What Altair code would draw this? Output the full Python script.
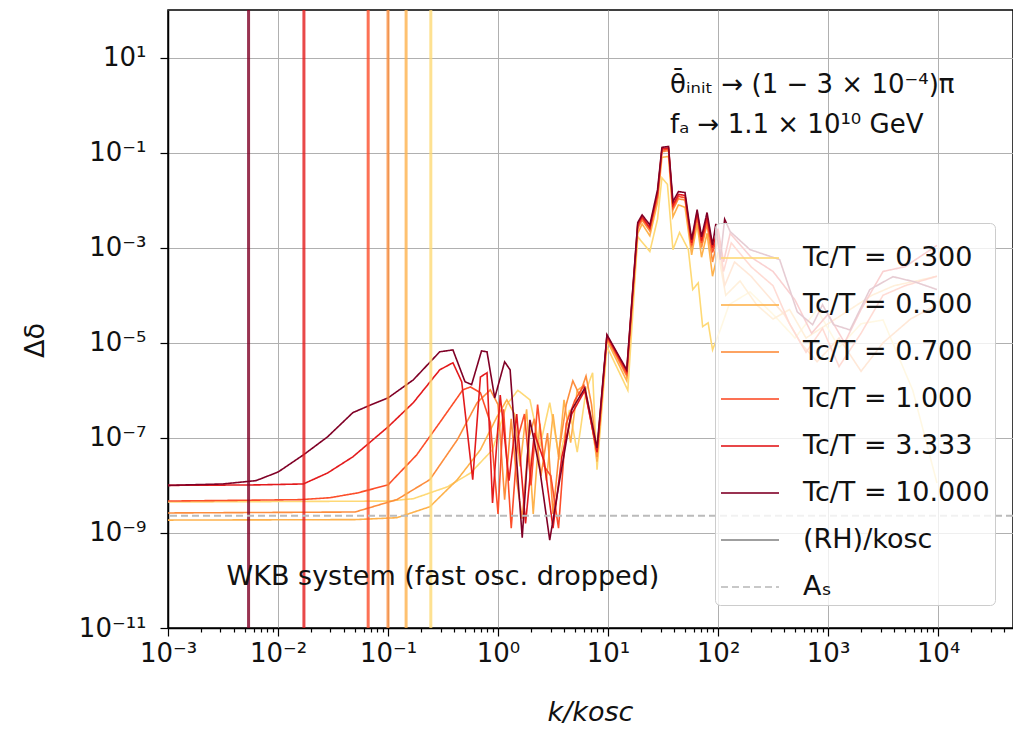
import altair as alt
import pandas as pd

# ---------------- data (log10 values) ----------------
series_labels = ["Tc/T = 0.300", "Tc/T = 0.500", "Tc/T = 0.700",
                 "Tc/T = 1.000", "Tc/T = 3.333", "Tc/T = 10.000"]
rh_label = "(RH)/kosc"
as_label = "Aₛ"
series_colors = ["#fed976", "#feb24c", "#fd8d3c", "#fc4e2a", "#e31a1c", "#800026"]

lx_T03 = [-3.0, -1.0, -0.77, -0.46, -0.25, -0.05, 0.08, 0.18, 0.29, 0.38,
          0.47, 0.56, 0.65, 0.72, 0.8, 0.86, 0.9, 0.99, 1.18, 1.27,
          1.38, 1.45, 1.49, 1.54, 1.59, 1.65, 1.73, 1.77, 1.82, 1.86,
          1.91, 1.95, 2.02, 2.1, 2.29, 2.5, 2.7, 2.9, 3.1, 3.3,
          3.5, 3.77, 3.99]
ly_T03 = [-8.35, -8.33, -8.28, -8.03, -7.74, -7.25, -6.3, -6.0, -6.2, -7.19,
          -6.26, -7.46, -6.41, -7.3, -6.0, -5.63, -7.67, -5.08, -6.0, -2.77,
          -3.08, -2.4, -1.53, -1.67, -3.04, -2.68, -3.04, -3.88, -3.74, -4.66,
          -4.58, -5.15, -4.73, -4.2, -3.93, -4.4, -4.9, -4.3, -5.1, -4.6,
          -4.52, -6.0, -7.95]

lx_T05 = [-3.0, -1.3, -0.92, -0.62, -0.37, -0.16, -0.01, 0.08, 0.15, 0.2,
          0.26, 0.32, 0.38, 0.44, 0.5, 0.55, 0.6, 0.66, 0.72, 0.78,
          0.84, 0.9, 0.99, 1.17, 1.27, 1.31, 1.38, 1.45, 1.49, 1.55,
          1.59, 1.64, 1.7, 1.76, 1.81, 1.85, 1.9, 1.95, 2.0, 2.07,
          2.2, 2.35, 2.5, 2.65, 2.8, 3.0, 3.2, 3.4, 3.6, 3.8,
          3.99]
ly_T05 = [-8.73, -8.72, -8.68, -8.45, -7.88, -7.25, -6.56, -6.2, -6.5, -7.6,
          -6.4, -8.6, -6.7, -7.9, -6.5, -7.4, -6.2, -7.1, -6.0, -5.9,
          -6.5, -7.5, -4.95, -5.8, -2.7, -2.5, -2.75, -2.05, -1.1, -1.08,
          -2.35, -2.1, -2.15, -3.15, -2.5, -3.2, -2.7, -3.6, -3.1, -4.0,
          -3.7, -4.2, -4.5, -4.3, -4.9, -4.6, -4.3, -4.0, -3.8, -3.7,
          -3.6]

lx_T07 = [-3.0, -1.3, -0.92, -0.62, -0.37, -0.19, -0.07, 0.0, 0.06, 0.12,
          0.17, 0.22, 0.28, 0.33, 0.39, 0.45, 0.5, 0.56, 0.62, 0.68,
          0.74, 0.8, 0.85, 0.9, 0.99, 1.17, 1.27, 1.31, 1.38, 1.45,
          1.49, 1.55, 1.59, 1.64, 1.7, 1.76, 1.81, 1.85, 1.9, 1.95,
          2.0, 2.06, 2.15, 2.3, 2.45, 2.6, 2.75, 2.9, 3.1, 3.3,
          3.5, 3.75, 3.99]
ly_T07 = [-8.58, -8.56, -8.3, -7.88, -7.04, -6.26, -5.99, -6.3, -8.3, -6.6,
          -7.9, -8.7, -7.0, -6.6, -7.8, -6.9, -8.6, -7.2, -6.3, -5.8,
          -6.1, -5.7, -6.3, -7.4, -4.9, -5.7, -2.6, -2.42, -2.65, -1.95,
          -0.98, -0.96, -2.2, -1.97, -2.0, -3.0, -2.36, -3.0, -2.5, -3.3,
          -2.8, -3.8, -3.3, -3.6, -4.0, -4.4, -5.0, -5.4, -4.9, -5.6,
          -5.0, -4.5, -4.2]

lx_T1 = [-3.0, -1.8, -1.53, -1.28, -1.0, -0.74, -0.53, -0.32, -0.25, -0.16,
         -0.07, 0.0, 0.05, 0.12, 0.18, 0.24, 0.3, 0.36, 0.42, 0.48,
         0.55, 0.62, 0.7, 0.78, 0.84, 0.9, 0.99, 1.17, 1.27, 1.31,
         1.38, 1.45, 1.49, 1.55, 1.59, 1.64, 1.7, 1.76, 1.81, 1.85,
         1.9, 1.95, 2.0, 2.05, 2.12, 2.3, 2.5, 2.65, 2.8, 2.95,
         3.1, 3.3, 3.5, 3.7, 3.99]
ly_T1 = [-8.33, -8.3, -8.26, -8.16, -7.99, -7.36, -6.68, -5.99, -5.93, -6.05,
         -6.68, -8.6, -6.4, -8.9, -7.0, -6.5, -8.0, -6.3, -7.6, -7.8,
         -8.9, -6.7, -6.2, -5.9, -6.6, -7.3, -4.87, -5.65, -2.55, -2.38,
         -2.6, -1.9, -0.95, -0.93, -2.15, -1.92, -1.95, -2.95, -2.3, -2.9,
         -2.4, -3.1, -2.7, -3.5, -2.9, -3.4, -3.8, -4.6, -5.2, -4.7,
         -5.5, -4.8, -4.0, -3.8, -3.6]

lx_T3 = [-3.0, -2.2, -1.77, -1.55, -1.32, -1.0, -0.77, -0.53, -0.41, -0.33,
         -0.23, -0.16, -0.1, -0.05, 0.02, 0.1, 0.17, 0.25, 0.33, 0.42,
         0.5, 0.58, 0.67, 0.79, 0.9, 0.99, 1.17, 1.27, 1.31, 1.38,
         1.45, 1.49, 1.55, 1.59, 1.64, 1.7, 1.76, 1.81, 1.85, 1.9,
         1.95, 2.0, 2.05, 2.11, 2.3, 2.5, 2.7, 2.85, 3.0, 3.15,
         3.3, 3.5, 3.7, 3.99]
ly_T3 = [-8.0, -7.99, -7.97, -7.74, -7.4, -6.77, -6.26, -5.57, -5.42, -5.82,
         -7.88, -5.72, -5.63, -8.37, -6.1, -7.9, -6.5, -8.8, -6.9, -7.5,
         -8.9, -7.4, -6.5, -6.0, -7.3, -4.85, -5.6, -2.5, -2.35, -2.58,
         -1.85, -0.92, -0.9, -2.1, -1.88, -1.9, -2.9, -2.25, -2.85, -2.35,
         -3.0, -2.6, -3.3, -2.7, -3.2, -3.5, -4.1, -4.8, -4.4, -5.0,
         -4.3, -3.5, -3.4, -2.95]

lx_T10 = [-3.0, -2.5, -2.2, -2.0, -1.77, -1.55, -1.32, -1.15, -1.0, -0.77,
          -0.53, -0.41, -0.3, -0.24, -0.15, -0.1, -0.03, 0.06, 0.11, 0.22,
          0.29, 0.38, 0.47, 0.55, 0.67, 0.79, 0.9, 0.99, 1.08, 1.17,
          1.27, 1.31, 1.38, 1.45, 1.49, 1.55, 1.59, 1.64, 1.7, 1.76,
          1.81, 1.85, 1.9, 1.95, 1.98, 2.02, 2.06, 2.11, 2.29, 2.56,
          2.72, 2.86, 2.95, 3.05, 3.2, 3.38, 3.59, 3.79, 3.99]
ly_T10 = [-8.0, -7.97, -7.9, -7.72, -7.36, -6.98, -6.47, -6.3, -6.16, -5.78,
          -5.19, -5.15, -5.82, -5.88, -5.17, -5.19, -6.16, -5.4, -5.57, -9.1,
          -6.62, -7.67, -9.15, -8.03, -6.41, -5.95, -7.21, -4.83, -5.2, -5.57,
          -2.47, -2.31, -2.52, -1.78, -0.89, -0.87, -2.03, -1.82, -1.84, -2.83,
          -2.2, -2.77, -2.26, -2.94, -2.5, -3.25, -2.4, -2.66, -3.04, -3.25,
          -4.35, -4.62, -4.2, -4.62, -4.73, -3.88, -3.61, -3.72, -3.88]

all_lx = [lx_T03, lx_T05, lx_T07, lx_T1, lx_T3, lx_T10]
all_ly = [ly_T03, ly_T05, ly_T07, ly_T1, ly_T3, ly_T10]

# (RH)/k_osc for each Tc/T
rh_k = [0.245, 0.146, 0.1, 0.066, 0.0172, 0.0054]
# A_s level
as_value = 2.3e-9

x_major = [1e-3, 1e-2, 1e-1, 1e0, 1e1, 1e2, 1e3, 1e4]
x_labels = {"-3": "10⁻³", "-2": "10⁻²", "-1": "10⁻¹", "0": "10⁰",
            "1": "10¹", "2": "10²", "3": "10³", "4": "10⁴"}
y_major = [1e1, 1e-1, 1e-3, 1e-5, 1e-7, 1e-9, 1e-11]
y_labels = {"1": "10¹", "-1": "10⁻¹", "-3": "10⁻³", "-5": "10⁻⁵",
            "-7": "10⁻⁷", "-9": "10⁻⁹", "-11": "10⁻¹¹"}

annot_text = ["θ̄ᵢₙᵢₜ → (1 − 3 × 10⁻⁴)π", "fₐ → 1.1 × 10¹⁰ GeV"]
annot_k = [36.6, 36.6]
annot_d = [2.7, 0.39]
wkb_text = ["WKB system (fast osc. dropped)"]
wkb_k = [0.316]
wkb_d = [1.2e-10]

# ---------------- build ----------------
FONT = "DejaVu Sans"
FS = 27
legend_domain = series_labels + [rh_label, as_label]
color_scale = alt.Scale(domain=legend_domain,
                        range=series_colors + ["#888888", "#bbbbbb"])
dash_scale = alt.Scale(domain=legend_domain,
                       range=[[1, 0]] * 7 + [[7, 4]])
xscale = alt.Scale(type="log", domain=[1e-3, 4.8e4], nice=False)
yscale = alt.Scale(type="log", domain=[1e-11, 1e2], nice=False)

legend = alt.Legend(title=None, orient="none", legendX=547, legendY=213,
                    symbolType="stroke", symbolSize=3364, symbolStrokeWidth=2,
                    labelFontSize=FS, labelFont=FONT, labelColor="#111111",
                    rowPadding=4, labelOffset=23, padding=5,
                    fillColor="rgba(255,255,255,0.8)", strokeColor="#cccccc",
                    cornerRadius=5, labelLimit=400)


def lookup_expr(mapping):
    body = ",".join("'%s':'%s'" % (k, v) for k, v in mapping.items())
    return "{" + body + "}['' + round(log(datum.value)/LN10)]"


x_axis = alt.Axis(values=x_major, labelExpr=lookup_expr(x_labels), grid=True,
                  gridColor="#b0b0b0", gridWidth=1, tickSize=8, labelPadding=4,
                  labelFontSize=26, labelFlush=False, labelOverlap=False,
                  title="k/kosc", titleFontSize=FS, titleFontStyle="italic",
                  titleFontWeight="normal", titleX=422, titleY=84,
                  titleBaseline="middle", titleAlign="center", orient="bottom")
x_minor = [m * 10.0 ** e for e in range(-3, 5) for m in range(2, 10)
           if m * 10.0 ** e < 4.8e4]
x_axis_minor = alt.Axis(values=x_minor, labels=False, grid=False, tickSize=4,
                        domain=False, title="", orient="bottom")
y_axis = alt.Axis(values=y_major, labelExpr=lookup_expr(y_labels), grid=True,
                  gridColor="#b0b0b0", gridWidth=1, tickSize=8, labelPadding=14,
                  labelFontSize=26, labelFlush=False, labelOverlap=False,
                  title="Δδ", titleFontSize=FS, titleFontWeight="normal",
                  titleX=-133, titleY=330, titleBaseline="middle",
                  titleAlign="center")

layers = []
for i, (lab, xs, ys) in enumerate(zip(series_labels, all_lx, all_ly)):
    df = pd.DataFrame({"k": [10.0 ** a for a in xs],
                       "delta": [10.0 ** b for b in ys],
                       "series": lab})
    layers.append(
        alt.Chart(df).mark_line(strokeWidth=1.6, clip=True).encode(
            x=alt.X("k:Q", scale=xscale, axis=x_axis if i == 0 else None),
            y=alt.Y("delta:Q", scale=yscale, axis=y_axis) if i == 0
            else alt.Y("delta:Q", scale=yscale),
            color=alt.Color("series:N", scale=color_scale, legend=legend),
            strokeDash=alt.StrokeDash("series:N", scale=dash_scale, legend=legend),
        )
    )

rules_df = pd.DataFrame({"k": rh_k, "series": series_labels})
layers.append(
    alt.Chart(rules_df).mark_rule(strokeWidth=3, opacity=0.8, clip=True).encode(
        x=alt.X("k:Q", scale=xscale, axis=x_axis_minor),
        color=alt.Color("series:N", scale=color_scale, legend=legend),
        strokeDash=alt.StrokeDash("series:N", scale=dash_scale, legend=legend),
    )
)

as_df = pd.DataFrame({"delta": [as_value], "series": [as_label]})
layers.append(
    alt.Chart(as_df).mark_rule(strokeWidth=2.2).encode(
        y=alt.Y("delta:Q", scale=yscale),
        color=alt.Color("series:N", scale=color_scale, legend=legend),
        strokeDash=alt.StrokeDash("series:N", scale=dash_scale, legend=legend),
    )
)

ann_df = pd.DataFrame({"k": annot_k, "delta": annot_d, "t": annot_text})
layers.append(
    alt.Chart(ann_df).mark_text(font=FONT, fontSize=26, align="left",
                                baseline="middle", color="#111111").encode(
        x=alt.X("k:Q", scale=xscale, axis=None),
        y=alt.Y("delta:Q", scale=yscale),
        text="t:N",
    )
)
wkb_df = pd.DataFrame({"k": wkb_k, "delta": wkb_d, "t": wkb_text})
layers.append(
    alt.Chart(wkb_df).mark_text(font=FONT, fontSize=FS, align="center",
                                baseline="middle", color="#111111").encode(
        x=alt.X("k:Q", scale=xscale, axis=None),
        y=alt.Y("delta:Q", scale=yscale),
        text="t:N",
    )
)

chart = alt.layer(*layers).resolve_axis(x="independent").properties(
    width=845, height=618,
    padding={"left": 168, "top": 10, "right": 0, "bottom": 101},
    autosize=alt.AutoSizeParams(type="none"),
).configure_view(stroke="black", strokeWidth=1.5).configure_axis(
    domainColor="black", domainWidth=1.5, tickColor="black", tickWidth=1.2,
    labelFont=FONT, titleFont=FONT, labelColor="#111111", titleColor="#111111",
)

chart.save("out.html", embed_options={"renderer": "svg", "actions": False})
